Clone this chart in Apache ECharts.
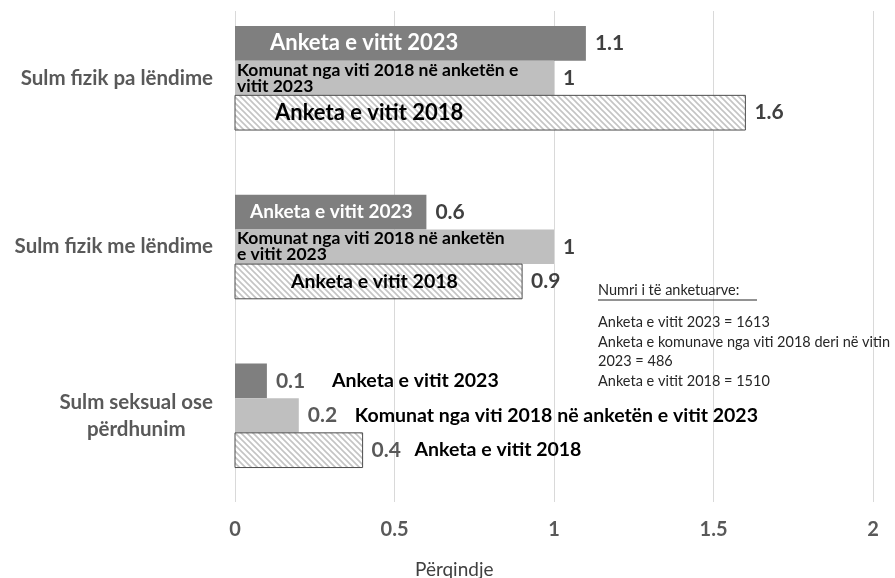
<!DOCTYPE html>
<html>
<head>
<meta charset="utf-8">
<script src="https://cdn.jsdelivr.net/npm/echarts@6/dist/echarts.min.js"></script>
<style>
  html, body { margin: 0; padding: 0; background: #fff; }
  #chart { width: 895px; height: 578px; }
</style>
</head>
<body>
<div id="chart"></div>
<script>
// kategoritë (nga lart poshtë)
const categories = ['Sulm fizik pa lëndime', 'Sulm fizik me lëndime', 'Sulm seksual ose\npërdhunim'];
// vlerat në përqindje
const anketa2023 = [1.1, 0.6, 0.1];
const komunat = [1, 1, 0.2];
const anketa2018 = [1.6, 0.9, 0.4];
const xTicks = [0, 0.5, 1, 1.5, 2];
// emrat e serive, siç shfaqen te secila kategori
const names2023 = ['Anketa e vitit 2023', 'Anketa e vitit 2023', 'Anketa e vitit 2023'];
const namesKomunat = ['Komunat nga viti 2018 në anketën e\nvitit 2023', 'Komunat nga viti 2018 në anketën\ne vitit 2023', 'Komunat nga viti 2018 në anketën e vitit 2023'];
const names2018 = ['Anketa e vitit 2018', 'Anketa e vitit 2018', 'Anketa e vitit 2018'];
const noteTitle = 'Numri i të anketuarve:';
const noteLines = ['Anketa e vitit 2023 = 1613', 'Anketa e komunave nga viti 2018 deri në vitin', '2023 = 486', 'Anketa e vitit 2018 = 1510'];

const FONT = 'Lato, "Liberation Sans", sans-serif';

// mostra me vija të pjerrëta për anketën 2018
function hatch() {
    const s = 6;
    const c = document.createElement('canvas');
    c.width = s; c.height = s;
    const ctx = c.getContext('2d');
    ctx.fillStyle = '#fff';
    ctx.fillRect(0, 0, s, s);
    ctx.strokeStyle = '#c4c4c4';
    ctx.lineWidth = 1.6;
    ctx.beginPath();
    ctx.moveTo(-1, -1); ctx.lineTo(s + 1, s + 1);
    ctx.moveTo(-1, s - 1); ctx.lineTo(1, s + 1);
    ctx.moveTo(s - 1, -1); ctx.lineTo(s + 1, 1);
    ctx.stroke();
    return c;
}

// stili i etiketave me emrin: brenda shtyllës ose pas vlerës
const labelStyle = [
    [{ inside: true, dx: 35, size: 22, color: '#fff' }, { inside: true, dx: 15, size: 19, color: '#fff' }, { inside: false, dx: 56, size: 19.5, color: '#000' }],
    [{ inside: true, dx: 2, size: 17.5, lh: 16, color: '#000' }, { inside: true, dx: 2, size: 17.5, lh: 16, color: '#000' }, { inside: false, dx: 47, size: 19.5, color: '#000' }],
    [{ inside: true, dx: 40, size: 22, color: '#000' }, { inside: true, dx: 56, size: 19.5, color: '#000' }, { inside: false, dx: 43, size: 19.5, color: '#000' }]
];
const barStyle = [
    { fill: '#7f7f7f', stroke: null },
    { fill: '#bfbfbf', stroke: null },
    { fill: { image: hatch(), repeat: 'repeat' }, stroke: '#4d4d4d' }
];

function makeSeries(k, values, names) {
    return {
        type: 'custom',
        xAxisIndex: 0,
        yAxisIndex: 0,
        clip: false,
        data: values.map((v, i) => [v, i]),
        encode: { x: 0, y: 1 },
        renderItem: function(params, api) {
            const v = api.value(0), ci = api.value(1);
            const p0 = api.coord([0, ci]);
            const p1 = api.coord([v, ci]);
            const h = api.size([0, 1])[1] * 0.2056;
            const top = p0[1] - 1.5 * h + k * h;
            const mid = top + h / 2;
            const ls = labelStyle[k][ci];
            const valX = p1[0] + 9;
            const children = [
                {
                    type: 'rect',
                    shape: { x: p0[0], y: top, width: p1[0] - p0[0], height: h },
                    style: { fill: barStyle[k].fill, stroke: barStyle[k].stroke, lineWidth: 1 }
                },
                {
                    type: 'text',
                    style: { text: String(v), x: valX, y: mid, verticalAlign: 'middle', fill: ci === 2 ? '#595959' : '#404040', font: 'bold 21px ' + FONT }
                },
                {
                    type: 'text',
                    style: {
                        text: names[ci],
                        x: ls.inside ? p0[0] + ls.dx : valX + ls.dx,
                        y: mid,
                        verticalAlign: 'middle',
                        fill: ls.color,
                        font: 'bold ' + ls.size + 'px ' + FONT,
                        lineHeight: ls.lh || ls.size + 1
                    }
                }
            ];
            return { type: 'group', children: children };
        }
    };
}

const chart = echarts.init(document.getElementById('chart'));
const option = {
    animation: false,
    backgroundColor: '#fff',
    textStyle: { fontFamily: FONT },
    grid: [
        { left: 235, right: 22, top: 78, height: 337.5 },
        { left: 235, right: 22, top: 11, height: 491 }
    ],
    xAxis: [
        { gridIndex: 0, type: 'value', min: 0, max: 2, show: false },
        {
            gridIndex: 1, type: 'value', min: 0, max: 2, interval: 0.5,
            axisLine: { show: false }, axisTick: { show: false },
            splitLine: { lineStyle: { color: '#d9d9d9', width: 1 } },
            axisLabel: {
                margin: 18, color: '#595959', fontWeight: 'bold', fontSize: 20,
                formatter: v => xTicks.indexOf(v) >= 0 ? String(v) : ''
            }
        }
    ],
    yAxis: [
        {
            gridIndex: 0, type: 'category', inverse: true, data: categories, boundaryGap: false,
            axisLine: { show: false }, axisTick: { show: false }, splitLine: { show: false },
            axisLabel: {
                margin: 22,
                formatter: v => '{c|' + v + '}',
                rich: { c: { align: 'center', color: '#595959', fontWeight: 'bold', fontSize: 20.5, lineHeight: 27, fontFamily: FONT } }
            }
        },
        { gridIndex: 1, type: 'value', show: false }
    ],
    title: {
        text: 'Përqindje',
        left: 410,
        top: 555,
        textStyle: { fontSize: 19, fontWeight: 'normal', color: '#404040', fontFamily: FONT }
    },
    graphic: [
        {
            type: 'text', left: 598, top: 283, z: 10,
            style: { text: noteTitle, fill: '#262626', font: '14.5px ' + FONT }
        },
        {
            type: 'line', z: 10,
            shape: { x1: 598, y1: 300, x2: 757, y2: 300 },
            style: { stroke: '#262626', lineWidth: 1 }
        },
        {
            type: 'text', left: 598, top: 313, z: 10,
            style: { text: noteLines.join('\n'), fill: '#262626', font: '14.5px ' + FONT, lineHeight: 19.5 }
        }
    ],
    series: [
        makeSeries(0, anketa2023, names2023),
        makeSeries(1, komunat, namesKomunat),
        makeSeries(2, anketa2018, names2018)
    ]
};
chart.setOption(option);
</script>
</body>
</html>
